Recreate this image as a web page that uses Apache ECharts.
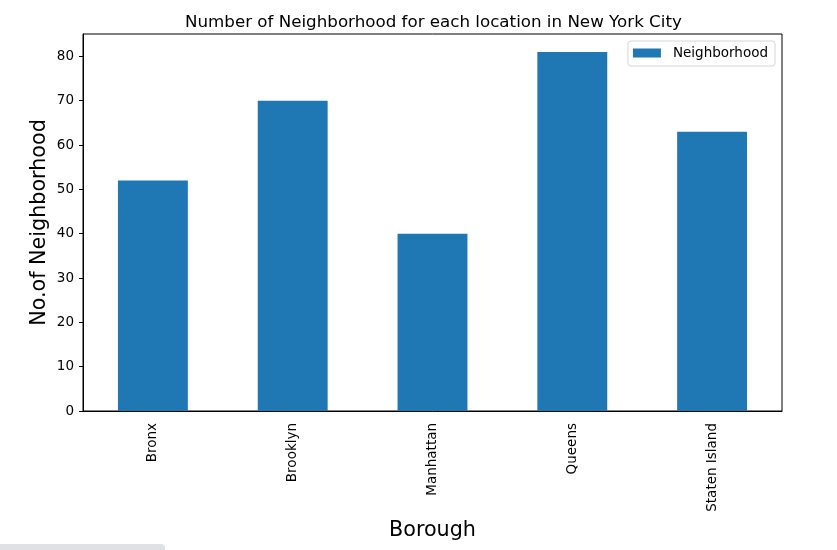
<!DOCTYPE html>
<html><head><meta charset="utf-8">
<script src="https://cdn.jsdelivr.net/npm/echarts@6/dist/echarts.min.js"></script>
<style>html,body{margin:0;padding:0;background:#fff}#c{width:837px;height:550px}</style>
</head><body><div id="c"></div>
<script>
const categories = ["Bronx", "Brooklyn", "Manhattan", "Queens", "Staten Island"];
const neighborhoodCounts = [52, 70, 40, 81, 63];
const yTicks = [0, 10, 20, 30, 40, 50, 60, 70, 80];
const seriesName = "Neighborhood";
const titleText = "Number of Neighborhood for each location in New York City";
const xName = "Borough";
const yName = "No.of Neighborhood";

const F = "DejaVu Sans";
const chart = echarts.init(document.getElementById('c'), null, {renderer: 'canvas'});
chart.setOption({
  animation: false,
  backgroundColor: '#fff',
  title: {
    text: titleText, left: 180, top: 9,
    textStyle: {fontFamily: F, fontSize: 16.7, fontWeight: 'normal', color: '#000'}
  },
  legend: {
    data: [seriesName], right: 62, top: 41,
    icon: 'rect', itemWidth: 28, itemHeight: 9, itemGap: 8,
    padding: [5, 7, 6, 5],
    borderColor: '#d6d6d6', borderWidth: 1, borderRadius: 3, backgroundColor: '#fff',
    textStyle: {fontFamily: F, fontSize: 13.5, color: '#000', padding: [0, 0, 0, 7]}
  },
  grid: {left: 83, right: 55, top: 34, bottom: 139, show: true, borderColor: '#000', borderWidth: 1, containLabel: false},
  xAxis: {
    type: 'category', data: categories,
    name: xName, nameLocation: 'middle', nameGap: 105,
    nameTextStyle: {fontFamily: F, fontSize: 20.7, color: '#000'},
    axisLine: {lineStyle: {color: '#000', width: 1}},
    axisTick: {alignWithLabel: true, length: 4, lineStyle: {color: '#000'}},
    axisLabel: {rotate: 90, fontFamily: F, fontSize: 13.5, color: '#000', margin: 12, interval: 0}
  },
  yAxis: {
    type: 'value', min: 0, max: 85.05,
    name: yName, nameLocation: 'middle', nameGap: 33, nameMoveOverlap: false,
    nameTextStyle: {fontFamily: F, fontSize: 20.7, color: '#000'},
    axisLine: {show: true, lineStyle: {color: '#000', width: 1}},
    axisTick: {show: true, length: 4, lineStyle: {color: '#000'}, customValues: yTicks},
    axisLabel: {fontFamily: F, fontSize: 13.5, color: '#000', margin: 9, customValues: yTicks},
    splitLine: {show: false}
  },
  series: [{
    name: seriesName, type: 'bar', data: neighborhoodCounts, barWidth: '50%',
    itemStyle: {color: '#1f77b4'}
  }],
  graphic: [{
    type: 'rect', left: 0, top: 544,
    shape: {width: 165, height: 10, r: [0, 4, 0, 0]},
    style: {fill: '#dfe2e5'}
  }]
});
</script></body></html>
